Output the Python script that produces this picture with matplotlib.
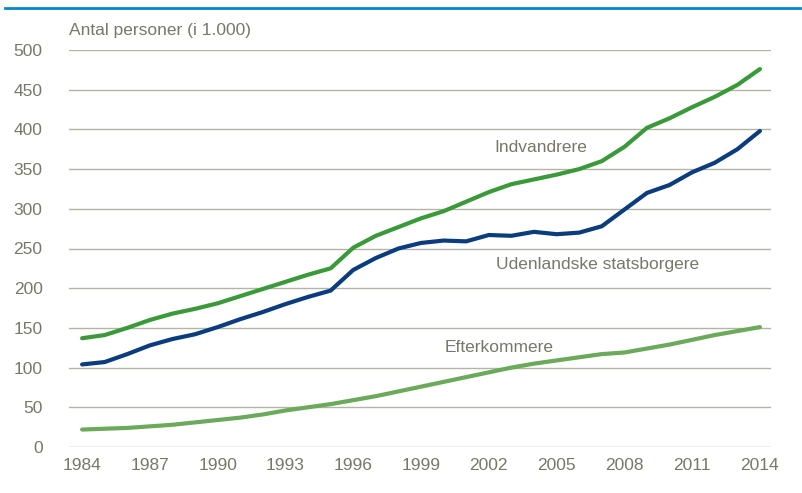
import matplotlib
matplotlib.use("Agg")
import matplotlib.pyplot as plt
from matplotlib.lines import Line2D
from matplotlib import font_manager

years = list(range(1984, 2015))
indvandrere = [137, 141, 150, 160, 168, 174, 181, 190, 199, 208, 217, 225, 251, 266, 277, 288,
               297, 309, 321, 331, 337, 343, 350, 360, 378, 402, 414, 428, 441, 456, 476]
udenlandske = [104, 107, 117, 128, 136, 142, 151, 161, 170, 180, 189, 197, 223, 238, 250, 257,
               260, 259, 267, 266, 271, 268, 270, 278, 299, 320, 330, 346, 358, 375, 398]
efterkommere = [22, 23, 24, 26, 28, 31, 34, 37, 41, 46, 50, 54, 59, 64, 70, 76,
                82, 88, 94, 100, 105, 109, 113, 117, 119, 124, 129, 135, 141, 146, 151]
yticks = [0, 50, 100, 150, 200, 250, 300, 350, 400, 450, 500]
xticks = list(range(1984, 2015, 3))

names = {f.name for f in font_manager.fontManager.ttflist}
narrow = 'Liberation Sans Narrow' in names
plt.rcParams['font.family'] = ['Liberation Sans Narrow' if narrow else 'Liberation Sans', 'DejaVu Sans']
fs = 14.5 if narrow else 12.5
txt = '#77776A'
W, H = 803, 493
fig = plt.figure(figsize=(W / 100, H / 100), dpi=100)
ax = fig.add_axes([69 / W, 1 - 447 / H, (771 - 69) / W, (447 - 50) / H])

ax.plot(years, indvandrere, color='#3A9A3A', lw=3.0, solid_capstyle='round', zorder=3)
ax.plot(years, udenlandske, color='#0B3D7E', lw=3.0, solid_capstyle='round', zorder=3)
ax.plot(years, efterkommere, color='#6AAA5A', lw=3.0, solid_capstyle='round', zorder=3)

ax.set_xlim(1983.42, 2014.49)
ax.set_ylim(0, 500)
ax.set_yticks(yticks)
ax.set_xticks(xticks)
ax.grid(axis='y', color='#B4B4A6', lw=1.0)
ax.set_axisbelow(True)
for s in ax.spines.values():
    s.set_visible(False)
ax.tick_params(axis='both', length=0, labelsize=fs, colors=txt)
ax.tick_params(axis='y', pad=19)
ax.tick_params(axis='x', pad=8)

fig.text(69 / W, 1 - 30 / H, 'Antal personer (i 1.000)', color=txt, fontsize=fs,
         ha='left', va='center')
for t, x, y in [('Indvandrere', 541, 148), ('Udenlandske statsborgere', 598, 265),
                ('Efterkommere', 499.5, 347)]:
    fig.text(x / W, 1 - y / H, t, color=txt, fontsize=fs, ha='center', va='center')

fig.add_artist(Line2D([5 / W, 800 / W], [1 - 7.5 / H, 1 - 7.5 / H], color='#0088CC', lw=2.0))

fig.savefig('out.png', dpi=100)
